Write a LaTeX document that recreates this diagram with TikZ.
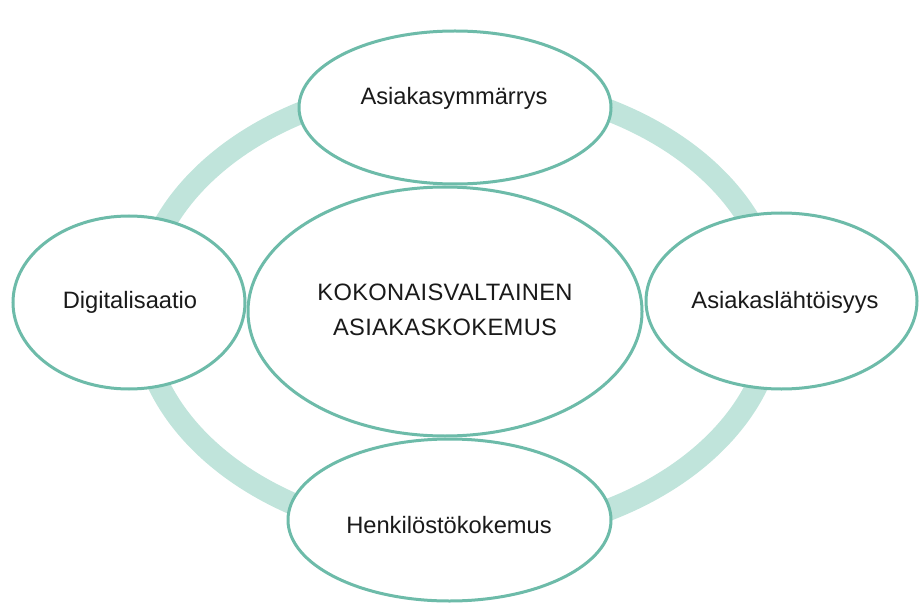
\documentclass[tikz,border=0pt]{standalone}
\usepackage{fontspec}
\setmainfont{Liberation Sans}
\usetikzlibrary{shapes.geometric}
\definecolor{ringc}{HTML}{C0E4DB}
\definecolor{edgec}{HTML}{6DBBA9}
\definecolor{txtc}{HTML}{1A1A1A}
\tikzset{
  bubble/.style={ellipse, draw=edgec, line width=3pt, fill=white, inner sep=0pt, outer sep=0pt},
  lbl/.style={anchor=base, inner sep=0pt, text=txtc, font=\fontsize{23.7}{28}\selectfont}
}
\begin{document}
\begin{tikzpicture}[x=1pt,y=-1pt]
\useasboundingbox (0,0) rectangle (920,612);
% ring
\draw[ringc, line width=22pt] (458,310) ellipse [x radius=317, y radius=227];
% bubbles
\node[bubble, minimum width=394pt, minimum height=249pt] (center) at (445,311.5) {};
\node[bubble, minimum width=312pt, minimum height=153pt] (top) at (455,107.5) {};
\node[bubble, minimum width=232pt, minimum height=173pt] (left) at (129,302.5) {};
\node[bubble, minimum width=271pt, minimum height=176pt] (right) at (781.5,301) {};
\node[bubble, minimum width=323pt, minimum height=162pt] (bottom) at (449.5,520) {};
% labels
\node[lbl] (ttop) at (454,105) {Asiakasymmärrys};
\node[lbl] (tleft) at (130,308) {Digitalisaatio};
\node[lbl] (tright) at (785,308) {Asiakaslähtöisyys};
\node[lbl] (tbottom) at (449,533) {Henkilöstökokemus};
\node[lbl] (tc1) at (445,300) {\addfontfeature{LetterSpace=1.3}KOKONAISVALTAINEN};
\node[lbl] (tc2) at (445,335) {\addfontfeature{LetterSpace=1.3}ASIAKASKOKEMUS};
\end{tikzpicture}
\end{document}
